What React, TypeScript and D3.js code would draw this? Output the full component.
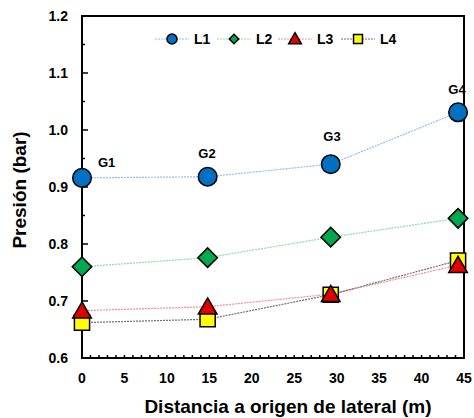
import * as d3 from "d3";
import { useEffect, useRef } from "react";

const distances = [0, 14.8, 29.3, 44.3];
const seriesNames = ["L1", "L2", "L3", "L4"];
const l1 = [0.916, 0.918, 0.94, 1.031];
const l2 = [0.76, 0.776, 0.812, 0.845];
const l3 = [0.683, 0.69, 0.712, 0.763];
const l4 = [0.662, 0.668, 0.711, 0.771];
const groupLabels = ["G1", "G2", "G3", "G4"];
const xTicks = [0, 5, 10, 15, 20, 25, 30, 35, 40, 45];
const yTicks = [0.6, 0.7, 0.8, 0.9, 1.0, 1.1, 1.2];

const styles = [
  { fill: "#0070C0", line: "#8FC1EA", shape: d3.symbolCircle, size: 270, lsize: 80, rot: 0 },
  { fill: "#00A850", line: "#8DDBA8", shape: d3.symbolSquare, size: 190, lsize: 45, rot: 45 },
  { fill: "#E00000", line: "#F29090", shape: d3.symbolTriangle, size: 150, lsize: 70, rot: 0 },
  { fill: "#FFFF00", line: "#707070", shape: d3.symbolSquare, size: 230, lsize: 80, rot: 0 },
];

export default function App() {
  const svgRef = useRef<SVGSVGElement>(null);

  useEffect(() => {
    const svg = d3.select(svgRef.current);
    svg.selectAll("*").remove();
    const font = "Liberation Sans, Arial, sans-serif";

    const x = d3.scaleLinear().domain([0, 45]).range([82, 464]);
    const y = d3.scaleLinear().domain([0.6, 1.2]).range([358, 16]);

    // minor ticks
    const g = svg.append("g");
    g.selectAll(".mx")
      .data(d3.range(0, 46))
      .join("line")
      .attr("x1", (d) => x(d))
      .attr("x2", (d) => x(d))
      .attr("y1", 358)
      .attr("y2", 355)
      .attr("stroke", "#000")
      .attr("stroke-width", 1.5);
    g.selectAll(".my")
      .data(d3.range(0.65, 1.2, 0.1))
      .join("line")
      .attr("x1", 82)
      .attr("x2", 85)
      .attr("y1", (d) => y(d))
      .attr("y2", (d) => y(d))
      .attr("stroke", "#000")
      .attr("stroke-width", 1.5);
    g.selectAll(".My")
      .data(yTicks)
      .join("line")
      .attr("x1", 82)
      .attr("x2", 88)
      .attr("y1", (d) => y(d))
      .attr("y2", (d) => y(d))
      .attr("stroke", "#000")
      .attr("stroke-width", 1.5);

    // tick labels
    svg.append("g")
      .selectAll("text")
      .data(yTicks)
      .join("text")
      .attr("x", 68)
      .attr("y", (d) => y(d) + 5)
      .attr("text-anchor", "end")
      .attr("font-family", font)
      .attr("font-weight", "bold")
      .attr("font-size", 14)
      .text((d) => d.toFixed(1));
    svg.append("g")
      .selectAll("text")
      .data(xTicks)
      .join("text")
      .attr("x", (d) => x(d))
      .attr("y", 383)
      .attr("text-anchor", "middle")
      .attr("font-family", font)
      .attr("font-weight", "bold")
      .attr("font-size", 14)
      .text((d) => d);

    // frame
    svg.append("rect")
      .attr("x", 82)
      .attr("y", 16)
      .attr("width", 382)
      .attr("height", 342)
      .attr("fill", "none")
      .attr("stroke", "#000")
      .attr("stroke-width", 2);

    // axis titles
    svg.append("text")
      .attr("x", 288)
      .attr("y", 413)
      .attr("text-anchor", "middle")
      .attr("font-family", font)
      .attr("font-weight", "bold")
      .attr("font-size", 19)
      .text("Distancia a origen de lateral (m)");
    svg.append("text")
      .attr("transform", "translate(26,190) rotate(-90)")
      .attr("text-anchor", "middle")
      .attr("font-family", font)
      .attr("font-weight", "bold")
      .attr("font-size", 19)
      .text("Presión (bar)");

    const data = [l1, l2, l3, l4];
    const line = d3
      .line<number>()
      .x((_, i) => x(distances[i]))
      .y((d) => y(d));

    data.forEach((vals, k) => {
      svg.append("path")
        .attr("d", line(vals))
        .attr("fill", "none")
        .attr("stroke", styles[k].line)
        .attr("stroke-width", 1.2)
        .attr("stroke-dasharray", "2,1");
    });
    [l4, l3, l2, l1].forEach((vals) => {
      const k = data.indexOf(vals);
      const st = styles[k];
      const sym = d3.symbol().type(st.shape).size(st.size);
      svg.append("g")
        .selectAll("path")
        .data(vals)
        .join("path")
        .attr(
          "transform",
          (d, i) => `translate(${x(distances[i])},${y(d) + (k === 2 ? 2 : 0)}) rotate(${st.rot})`
        )
        .attr("d", sym() as string)
        .attr("fill", st.fill)
        .attr("stroke", "#000")
        .attr("stroke-width", 1.5);
    });

    // group labels
    const labelPos = [
      [98, 167],
      [207, 158],
      [332, 141],
      [457, 94],
    ];
    svg.append("g")
      .selectAll("text")
      .data(groupLabels)
      .join("text")
      .attr("x", (_, i) => labelPos[i][0])
      .attr("y", (_, i) => labelPos[i][1])
      .attr("text-anchor", (_, i) => (i === 0 ? "start" : "middle"))
      .attr("font-family", font)
      .attr("font-weight", "bold")
      .attr("font-size", 13)
      .text((d) => d);

    // legend
    const lx = [155, 217, 278, 341];
    seriesNames.forEach((name, k) => {
      const st = styles[k];
      const lg = svg.append("g").attr("transform", `translate(${lx[k]},39)`);
      lg.append("line")
        .attr("x1", 0)
        .attr("x2", 34)
        .attr("stroke", st.line)
        .attr("stroke-width", 1.2)
        .attr("stroke-dasharray", "2,1");
      lg.append("path")
        .attr("transform", `translate(17,${k === 2 ? 1 : 0}) rotate(${st.rot})`)
        .attr("d", d3.symbol().type(st.shape).size(st.lsize)() as string)
        .attr("fill", st.fill)
        .attr("stroke", "#000")
        .attr("stroke-width", 1.5);
      lg.append("text")
        .attr("x", 39)
        .attr("y", 5)
        .attr("font-family", font)
        .attr("font-weight", "bold")
        .attr("font-size", 14)
        .text(name);
    });
  }, []);

  return (
    <svg
      ref={svgRef}
      width={474}
      height={418}
      style={{ position: "absolute", left: 0, top: 0, background: "#fff" }}
    />
  );
}
